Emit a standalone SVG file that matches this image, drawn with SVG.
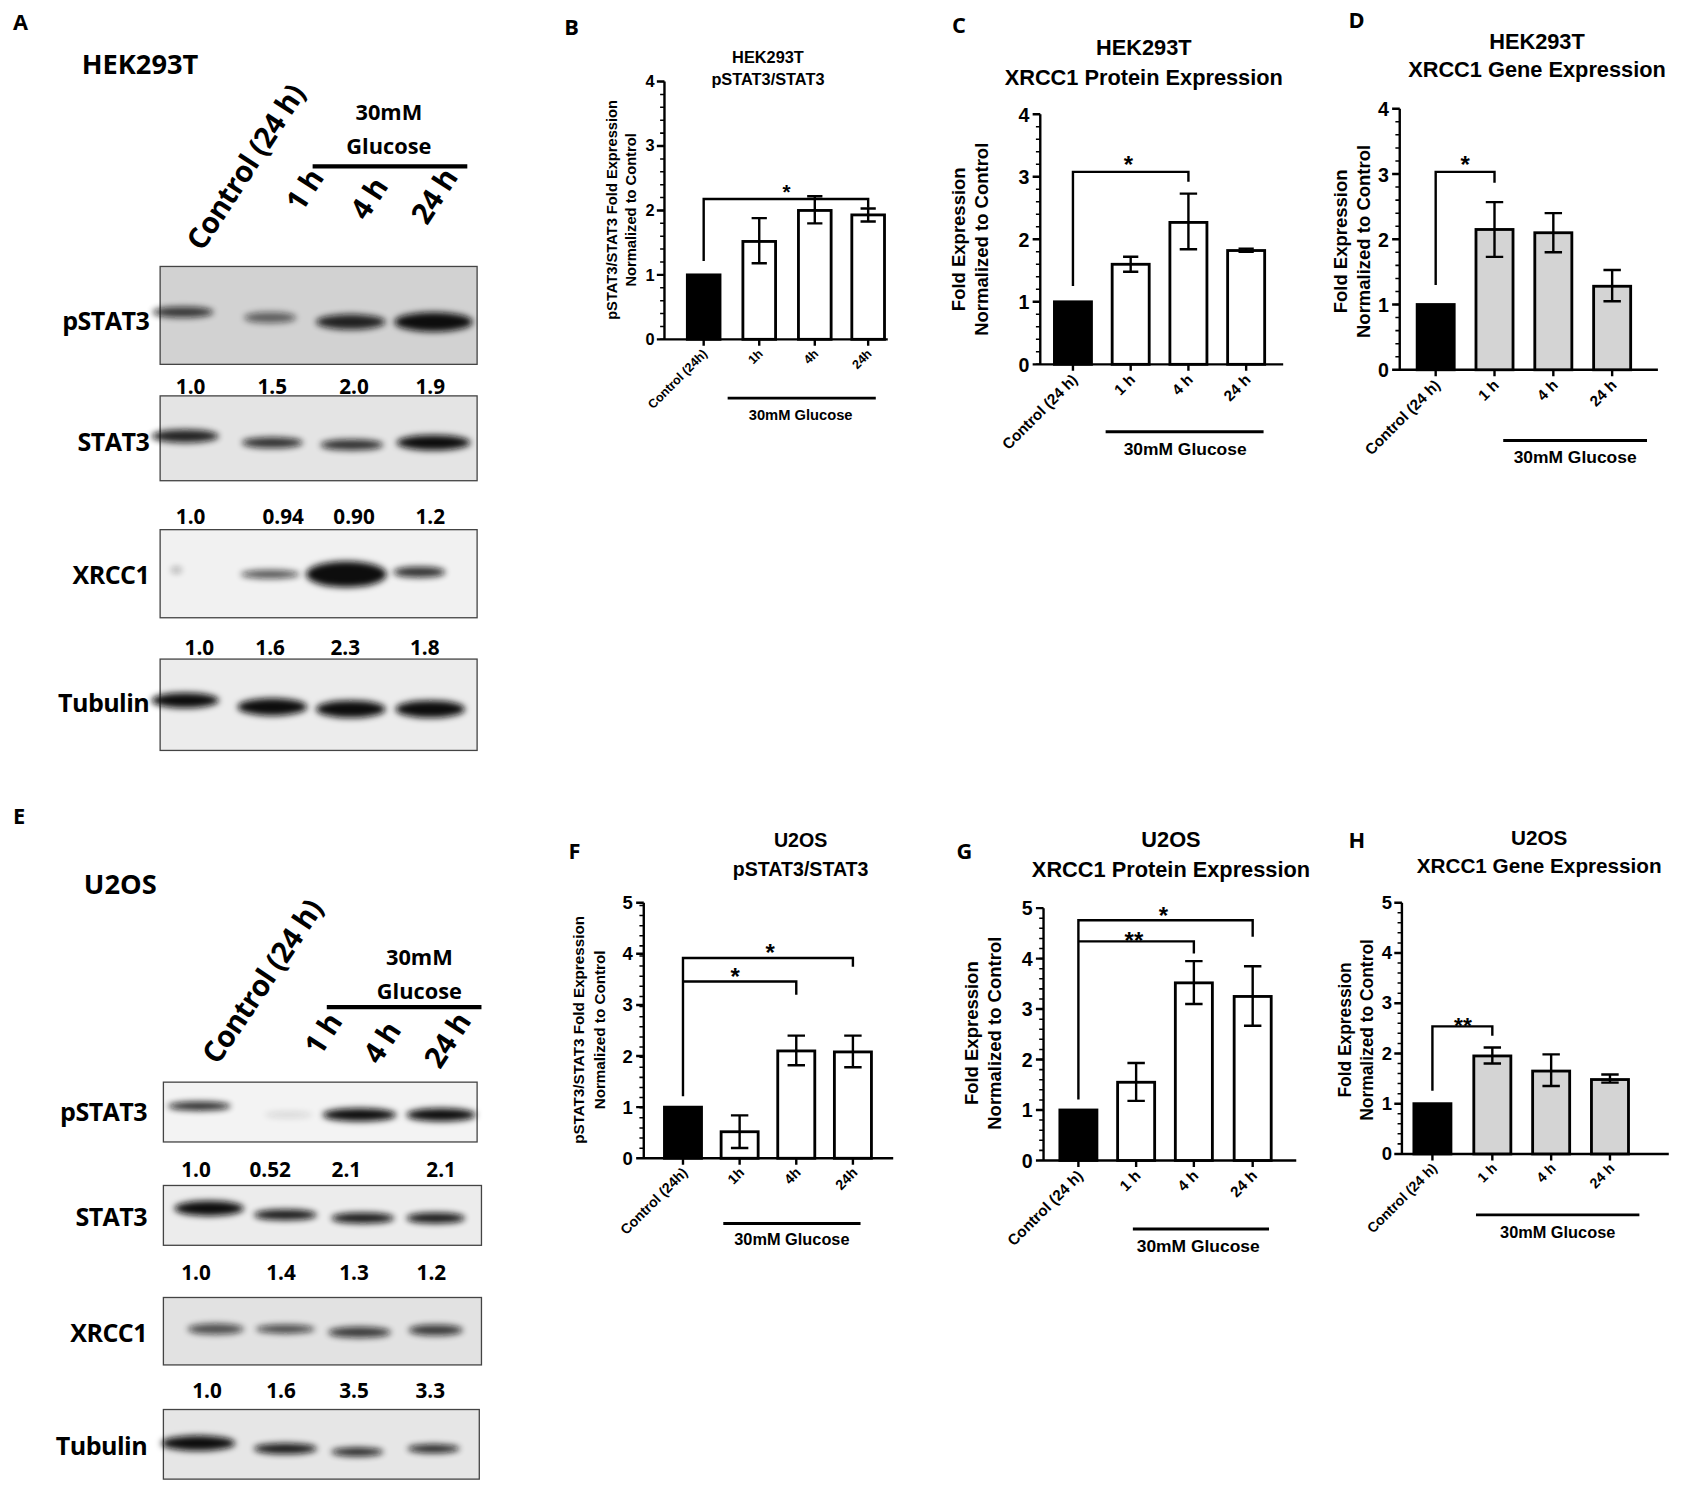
<svg xmlns="http://www.w3.org/2000/svg" width="1708" height="1490" viewBox="0 0 1708 1490">
<style>
.pl{font-family:"Open Sans","Noto Sans",sans-serif;font-weight:700;font-size:20px;fill:#000}
.big{font-family:"Open Sans","Noto Sans",sans-serif;font-weight:700;font-size:25px;fill:#000}
.bl{font-family:"Open Sans","Noto Sans",sans-serif;font-weight:700;font-size:23px;fill:#000;text-anchor:end;letter-spacing:-0.5px}
.num{font-family:"Open Sans","Noto Sans",sans-serif;font-weight:700;font-size:19px;fill:#000;text-anchor:middle}
.hd{font-family:"Open Sans","Noto Sans",sans-serif;font-weight:700;font-size:27px;fill:#000;letter-spacing:-0.5px}
.hdc{font-family:"Open Sans","Noto Sans",sans-serif;font-weight:700;font-size:20px;fill:#000;text-anchor:middle}
.t{font-family:"Liberation Sans",Arial,sans-serif;font-weight:bold;fill:#000;text-anchor:middle}
.tk{font-family:"Liberation Sans",Arial,sans-serif;font-weight:bold;fill:#000;text-anchor:end}
.xl{font-family:"Liberation Sans",Arial,sans-serif;font-weight:bold;fill:#000;text-anchor:end}
.ax{stroke:#000;stroke-width:2.2;fill:none}
.bar{stroke:#000;stroke-width:2.6}
.line{stroke:#000;stroke-width:2.2;fill:none}
.gl{stroke:#000;stroke-width:2.6}
.hdl{stroke:#000;stroke-width:4}
.blot{stroke:#444;stroke-width:1.2}
.band{fill:#111;filter:url(#bl)}
</style>
<defs>
<filter id="bl" x="-50%" y="-100%" width="200%" height="300%"><feGaussianBlur stdDeviation="3"/></filter>
</defs>
<rect width="1708" height="1490" fill="#fff"/>
<g transform="scale(1.08929,1.08759)">

<!-- Panel A -->
<g id="panelA">
<text class="pl" x="12" y="28">A</text>
<text class="big" x="75" y="68">HEK293T</text>
<text class="hd" transform="translate(186,232) rotate(-57)">Control (24 h)</text>
<text class="hdc" x="357" y="110">30mM</text>
<text class="hdc" x="357" y="142">Glucose</text>
<line class="hdl" x1="287" y1="153" x2="429" y2="153"/>
<text class="hd" transform="translate(277,196) rotate(-57)">1 h</text>
<text class="hd" transform="translate(336,204) rotate(-57)">4 h</text>
<text class="hd" transform="translate(392,208) rotate(-57)">24 h</text>
<g id="A_pSTAT3"><rect class="blot" x="147" y="245" width="291" height="90" fill="#d2d2d2"/>
<ellipse class="band" cx="168" cy="287" rx="28" ry="5" opacity="0.8"/><ellipse class="band" cx="248" cy="292" rx="24" ry="5" opacity="0.6"/><ellipse class="band" cx="322" cy="296" rx="32" ry="7" opacity="0.9"/><ellipse class="band" cx="398" cy="296" rx="36" ry="9"/>
<text class="bl" x="137" y="303">pSTAT3</text></g>
<g class="num"><text x="175" y="362">1.0</text><text x="250" y="362">1.5</text><text x="325" y="362">2.0</text><text x="395" y="362">1.9</text></g>
<g id="A_STAT3"><rect class="blot" x="147" y="364" width="291" height="78" fill="#e4e4e4"/>
<ellipse class="band" cx="170" cy="401" rx="31" ry="6" opacity="0.9"/><ellipse class="band" cx="250" cy="407" rx="28" ry="5" opacity="0.85"/><ellipse class="band" cx="323" cy="409" rx="29" ry="5" opacity="0.85"/><ellipse class="band" cx="398" cy="407" rx="34" ry="7"/>
<text class="bl" x="137" y="415">STAT3</text></g>
<g class="num"><text x="175" y="482">1.0</text><text x="260" y="482">0.94</text><text x="325" y="482">0.90</text><text x="395" y="482">1.2</text></g>
<g id="A_XRCC1"><rect class="blot" x="147" y="487" width="291" height="81" fill="#f1f1f1"/>
<ellipse class="band" cx="162" cy="524" rx="5" ry="3" opacity="0.3"/><ellipse class="band" cx="248" cy="528" rx="27" ry="4" opacity="0.7"/><ellipse class="band" cx="318" cy="528" rx="37" ry="12"/><ellipse class="band" cx="385" cy="526" rx="24" ry="5" opacity="0.85"/>
<text class="bl" x="137" y="537">XRCC1</text></g>
<g class="num"><text x="183" y="602">1.0</text><text x="248" y="602">1.6</text><text x="317" y="602">2.3</text><text x="390" y="602">1.8</text></g>
<g id="A_Tubulin"><rect class="blot" x="147" y="606" width="291" height="84" fill="#ececec"/>
<ellipse class="band" cx="170" cy="644" rx="31" ry="7"/><ellipse class="band" cx="250" cy="650" rx="32" ry="8"/><ellipse class="band" cx="322" cy="652" rx="32" ry="8"/><ellipse class="band" cx="395" cy="652" rx="32" ry="8"/>
<text class="bl" x="137" y="655">Tubulin</text></g>
</g>

<!-- Panel E -->
<g id="panelE">
<text class="pl" x="12" y="758">E</text>
<text class="big" x="77" y="822">U2OS</text>
<text class="hd" transform="translate(200,980) rotate(-56)">Control (24 h)</text>
<text class="hdc" x="385" y="887">30mM</text>
<text class="hdc" x="385" y="919">Glucose</text>
<line class="hdl" x1="300" y1="926" x2="442" y2="926"/>
<text class="hd" transform="translate(294,972) rotate(-57)">1 h</text>
<text class="hd" transform="translate(348,980) rotate(-57)">4 h</text>
<text class="hd" transform="translate(404,984) rotate(-57)">24 h</text>
<g id="E_pSTAT3"><rect class="blot" x="150" y="995" width="288" height="55" fill="#f3f3f3"/>
<ellipse class="band" cx="183" cy="1017" rx="29" ry="4" opacity="0.9"/><ellipse class="band" cx="265" cy="1025" rx="22" ry="3" opacity="0.12"/><ellipse class="band" cx="330" cy="1025" rx="34" ry="6"/><ellipse class="band" cx="405" cy="1025" rx="32" ry="6"/>
<text class="bl" x="135" y="1031">pSTAT3</text></g>
<g class="num"><text x="180" y="1082">1.0</text><text x="248" y="1082">0.52</text><text x="318" y="1082">2.1</text><text x="405" y="1082">2.1</text></g>
<g id="E_STAT3"><rect class="blot" x="150" y="1090" width="292" height="55" fill="#ececec"/>
<ellipse class="band" cx="192" cy="1111" rx="32" ry="7"/><ellipse class="band" cx="262" cy="1117" rx="29" ry="5" opacity="0.95"/><ellipse class="band" cx="333" cy="1120" rx="29" ry="5" opacity="0.95"/><ellipse class="band" cx="400" cy="1120" rx="27" ry="5" opacity="0.95"/>
<text class="bl" x="135" y="1127">STAT3</text></g>
<g class="num"><text x="180" y="1177">1.0</text><text x="258" y="1177">1.4</text><text x="325" y="1177">1.3</text><text x="396" y="1177">1.2</text></g>
<g id="E_XRCC1"><rect class="blot" x="150" y="1193" width="292" height="62" fill="#e2e2e2"/>
<ellipse class="band" cx="198" cy="1222" rx="26" ry="5" opacity="0.7"/><ellipse class="band" cx="262" cy="1222" rx="27" ry="4" opacity="0.75"/><ellipse class="band" cx="330" cy="1225" rx="29" ry="5" opacity="0.8"/><ellipse class="band" cx="400" cy="1223" rx="25" ry="5" opacity="0.8"/>
<text class="bl" x="135" y="1234">XRCC1</text></g>
<g class="num"><text x="190" y="1285">1.0</text><text x="258" y="1285">1.6</text><text x="325" y="1285">3.5</text><text x="395" y="1285">3.3</text></g>
<g id="E_Tubulin"><rect class="blot" x="150" y="1296" width="290" height="64" fill="#e6e6e6"/>
<ellipse class="band" cx="182" cy="1327" rx="34" ry="7"/><ellipse class="band" cx="262" cy="1332" rx="29" ry="5" opacity="0.95"/><ellipse class="band" cx="328" cy="1335" rx="24" ry="4" opacity="0.9"/><ellipse class="band" cx="398" cy="1332" rx="24" ry="4" opacity="0.9"/>
<text class="bl" x="135" y="1338">Tubulin</text></g>
</g>

<!-- Panel B -->
<g id="panelB">
<text class="pl" x="518" y="32">B</text>
<text class="t" x="705" y="58" font-size="15">HEK293T</text>
<text class="t" x="705" y="78" font-size="15">pSTAT3/STAT3</text>
<text class="t" font-size="13.5" transform="translate(566,193) rotate(-90)">pSTAT3/STAT3 Fold Expression</text>
<text class="t" font-size="13.5" transform="translate(584,193) rotate(-90)">Normalized to Control</text>
<path class="ax" d="M610,75V312H815M603,312H610M603,252.75H610M603,193.5H610M603,134.25H610M603,75H610M646,312V318M697,312V318M748,312V318M797,312V318"/>
<line x1="608" y1="312" x2="608" y2="75" stroke="#000" stroke-width="4" stroke-dasharray="1.4 10.45" stroke-dashoffset="0.7"/>
<g class="tk" font-size="15"><text x="601" y="317">0</text><text x="601" y="258">1</text><text x="601" y="199">2</text><text x="601" y="139">3</text><text x="601" y="80">4</text></g>
<rect class="bar" x="631" y="252.75" width="30" height="59.25" fill="#000"/>
<rect class="bar" x="682" y="222" width="30" height="90" fill="#fff"/>
<rect class="bar" x="733" y="193.5" width="30" height="118.5" fill="#fff"/>
<rect class="bar" x="782" y="197.6" width="30" height="114.4" fill="#fff"/>
<path class="line" d="M697,242V200.6M690,242H704M690,200.6H704M748,205.4V180.5M741,205.4H755M741,180.5H755M797,203.6V191.7M790,203.6H804M790,191.7H804"/>
<path class="line" d="M646,240V183H797V191"/>
<text class="t" x="722" y="183" font-size="19">*</text>
<g class="xl" font-size="11.5"><text transform="translate(650,326) rotate(-45)">Control (24h)</text><text transform="translate(701,326) rotate(-45)">1h</text><text transform="translate(752,326) rotate(-45)">4h</text><text transform="translate(801,326) rotate(-45)">24h</text></g>
<line class="gl" x1="668" y1="366" x2="804" y2="366"/>
<text class="t" x="735" y="386" font-size="13.5">30mM Glucose</text>
</g>

<!-- Panel C -->
<g id="panelC">
<text class="pl" x="874" y="30">C</text>
<text class="t" x="1050" y="51" font-size="20">HEK293T</text>
<text class="t" x="1050" y="78" font-size="20">XRCC1 Protein Expression</text>
<text class="t" font-size="17" transform="translate(886,220) rotate(-90)">Fold Expression</text>
<text class="t" font-size="17" transform="translate(907,220) rotate(-90)">Normalized to Control</text>
<path class="ax" d="M955,105V335H1178M948,335H955M948,277.5H955M948,220H955M948,162.5H955M948,105H955M985,335V341M1038,335V341M1091,335V341M1144,335V341"/>
<line x1="953" y1="335" x2="953" y2="105" stroke="#000" stroke-width="4" stroke-dasharray="1.4 10.1" stroke-dashoffset="0.7"/>
<g class="tk" font-size="18"><text x="945" y="342">0</text><text x="945" y="284">1</text><text x="945" y="227">2</text><text x="945" y="169">3</text><text x="945" y="112">4</text></g>
<rect class="bar" x="968" y="277.5" width="34" height="57.5" fill="#000"/>
<rect class="bar" x="1021" y="243" width="34" height="92" fill="#fff"/>
<rect class="bar" x="1074" y="204.5" width="34" height="130.5" fill="#fff"/>
<rect class="bar" x="1127" y="230.35" width="34" height="104.65" fill="#fff"/>
<path class="line" d="M1038,249.9V236.1M1031,249.9H1045M1031,236.1H1045M1091,229.2V178M1083,229.2H1099M1083,178H1099M1144,231.5V228.6M1137,231.5H1151M1137,228.6H1151"/>
<path class="line" d="M985,263V158H1091V167"/>
<text class="t" x="1036" y="159" font-size="22">*</text>
<g class="xl" font-size="14"><text transform="translate(990,350) rotate(-45)">Control (24 h)</text><text transform="translate(1043,350) rotate(-45)">1 h</text><text transform="translate(1096,350) rotate(-45)">4 h</text><text transform="translate(1149,350) rotate(-45)">24 h</text></g>
<line class="gl" x1="1015" y1="397" x2="1160" y2="397"/>
<text class="t" x="1088" y="418" font-size="16">30mM Glucose</text>
</g>

<!-- Panel D -->
<g id="panelD">
<text class="pl" x="1238" y="26">D</text>
<text class="t" x="1411" y="45" font-size="20">HEK293T</text>
<text class="t" x="1411" y="71" font-size="20">XRCC1 Gene Expression</text>
<text class="t" font-size="17" transform="translate(1237,222) rotate(-90)">Fold Expression</text>
<text class="t" font-size="17" transform="translate(1258,222) rotate(-90)">Normalized to Control</text>
<path class="ax" d="M1285,100V340H1522M1278,340H1285M1278,280H1285M1278,220H1285M1278,160H1285M1278,100H1285M1318,340V346M1372,340V346M1426,340V346M1480,340V346"/>
<line x1="1283" y1="340" x2="1283" y2="100" stroke="#000" stroke-width="4" stroke-dasharray="1.4 10.6" stroke-dashoffset="0.7"/>
<g class="tk" font-size="18"><text x="1275" y="347">0</text><text x="1275" y="287">1</text><text x="1275" y="227">2</text><text x="1275" y="167">3</text><text x="1275" y="107">4</text></g>
<rect class="bar" x="1301" y="280" width="34" height="60" fill="#000"/>
<rect class="bar" x="1355" y="211" width="34" height="129" fill="#d4d4d4"/>
<rect class="bar" x="1409" y="214" width="34" height="126" fill="#d4d4d4"/>
<rect class="bar" x="1463" y="263.2" width="34" height="76.8" fill="#d4d4d4"/>
<path class="line" d="M1372,236.2V185.8M1364,236.2H1380M1364,185.8H1380M1426,232V196M1418,232H1434M1418,196H1434M1480,277V248.2M1472,277H1488M1472,248.2H1488"/>
<path class="line" d="M1318,262V158H1372V168"/>
<text class="t" x="1345" y="159" font-size="22">*</text>
<g class="xl" font-size="14"><text transform="translate(1323,355) rotate(-45)">Control (24 h)</text><text transform="translate(1377,355) rotate(-45)">1 h</text><text transform="translate(1431,355) rotate(-45)">4 h</text><text transform="translate(1485,355) rotate(-45)">24 h</text></g>
<line class="gl" x1="1380" y1="405" x2="1512" y2="405"/>
<text class="t" x="1446" y="426" font-size="16">30mM Glucose</text>
</g>

<!-- Panel F -->
<g id="panelF">
<text class="pl" x="522" y="790">F</text>
<text class="t" x="735" y="779" font-size="18">U2OS</text>
<text class="t" x="735" y="805" font-size="18">pSTAT3/STAT3</text>
<text class="t" font-size="14" transform="translate(536,947) rotate(-90)">pSTAT3/STAT3 Fold Expression</text>
<text class="t" font-size="14" transform="translate(555,947) rotate(-90)">Normalized to Control</text>
<path class="ax" d="M591,830V1065H820M584,1065H591M584,1018H591M584,971H591M584,924H591M584,877H591M584,830H591M627,1065V1071M679,1065V1071M731,1065V1071M783,1065V1071"/>
<line x1="589" y1="1065" x2="589" y2="830" stroke="#000" stroke-width="4" stroke-dasharray="1.4 7.9" stroke-dashoffset="0.7"/>
<g class="tk" font-size="17"><text x="581" y="1071">0</text><text x="581" y="1024">1</text><text x="581" y="977">2</text><text x="581" y="930">3</text><text x="581" y="883">4</text><text x="581" y="836">5</text></g>
<rect class="bar" x="610" y="1018" width="34" height="47" fill="#000"/>
<rect class="bar" x="662" y="1040.6" width="34" height="24.4" fill="#fff"/>
<rect class="bar" x="714" y="966.3" width="34" height="98.7" fill="#fff"/>
<rect class="bar" x="766" y="967.2" width="34" height="97.8" fill="#fff"/>
<path class="line" d="M679,1055.6V1025.5M671,1055.6H687M671,1025.5H687M731,979.5V952.2M723,979.5H739M723,952.2H739M783,981.3V952.2M775,981.3H791M775,952.2H791"/>
<path class="line" d="M627,1008V880.8H783V889M627,902.4H731V914.6"/>
<text class="t" x="675" y="906" font-size="22">*</text>
<text class="t" x="707" y="884" font-size="22">*</text>
<g class="xl" font-size="13"><text transform="translate(632,1079) rotate(-45)">Control (24h)</text><text transform="translate(684,1079) rotate(-45)">1h</text><text transform="translate(736,1079) rotate(-45)">4h</text><text transform="translate(788,1079) rotate(-45)">24h</text></g>
<line class="gl" x1="664" y1="1125" x2="790" y2="1125"/>
<text class="t" x="727" y="1145" font-size="15">30mM Glucose</text>
</g>

<!-- Panel G -->
<g id="panelG">
<text class="pl" x="878" y="790">G</text>
<text class="t" x="1075" y="779" font-size="20">U2OS</text>
<text class="t" x="1075" y="806" font-size="20">XRCC1 Protein Expression</text>
<text class="t" font-size="17" transform="translate(898,950) rotate(-90)">Fold Expression</text>
<text class="t" font-size="17" transform="translate(919,950) rotate(-90)">Normalized to Control</text>
<path class="ax" d="M958,835V1067H1190M951,1067H958M951,1020.6H958M951,974.2H958M951,927.8H958M951,881.4H958M951,835H958M990,1067V1073M1043,1067V1073M1096,1067V1073M1150,1067V1073"/>
<line x1="956" y1="1067" x2="956" y2="835" stroke="#000" stroke-width="4" stroke-dasharray="1.4 7.88" stroke-dashoffset="0.7"/>
<g class="tk" font-size="18"><text x="948" y="1074">0</text><text x="948" y="1027">1</text><text x="948" y="981">2</text><text x="948" y="934">3</text><text x="948" y="888">4</text><text x="948" y="841">5</text></g>
<rect class="bar" x="973" y="1020.6" width="34" height="46.4" fill="#000"/>
<rect class="bar" x="1026" y="995.1" width="34" height="71.9" fill="#fff"/>
<rect class="bar" x="1079" y="903.7" width="34" height="163.3" fill="#fff"/>
<rect class="bar" x="1133" y="916.2" width="34" height="150.8" fill="#fff"/>
<path class="line" d="M1043,1012.2V977.4M1035,1012.2H1051M1035,977.4H1051M1096,923.2V883.7M1088,923.2H1104M1088,883.7H1104M1150,943.1V888.4M1142,943.1H1158M1142,888.4H1158"/>
<path class="line" d="M990,1011V846.1H1150V861.4M990,865.6H1096V876.8"/>
<text class="t" x="1041" y="873" font-size="22">**</text>
<text class="t" x="1068" y="850" font-size="22">*</text>
<g class="xl" font-size="14"><text transform="translate(995,1082) rotate(-45)">Control (24 h)</text><text transform="translate(1048,1082) rotate(-45)">1 h</text><text transform="translate(1101,1082) rotate(-45)">4 h</text><text transform="translate(1155,1082) rotate(-45)">24 h</text></g>
<line class="gl" x1="1040" y1="1130" x2="1165" y2="1130"/>
<text class="t" x="1100" y="1151" font-size="16">30mM Glucose</text>
</g>

<!-- Panel H -->
<g id="panelH">
<text class="pl" x="1238" y="780">H</text>
<text class="t" x="1413" y="777" font-size="19">U2OS</text>
<text class="t" x="1413" y="803" font-size="19">XRCC1 Gene Expression</text>
<text class="t" font-size="16" transform="translate(1240,947) rotate(-90)">Fold Expression</text>
<text class="t" font-size="16" transform="translate(1260,947) rotate(-90)">Normalized to Control</text>
<path class="ax" d="M1287,830V1061H1532M1280,1061H1287M1280,1014.8H1287M1280,968.6H1287M1280,922.4H1287M1280,876.2H1287M1280,830H1287M1315,1061V1067M1370,1061V1067M1424,1061V1067M1478,1061V1067"/>
<line x1="1285" y1="1061" x2="1285" y2="830" stroke="#000" stroke-width="4" stroke-dasharray="1.4 7.84" stroke-dashoffset="0.7"/>
<g class="tk" font-size="17"><text x="1278" y="1067">0</text><text x="1278" y="1021">1</text><text x="1278" y="975">2</text><text x="1278" y="928">3</text><text x="1278" y="882">4</text><text x="1278" y="836">5</text></g>
<rect class="bar" x="1298" y="1014.8" width="34" height="46.2" fill="#000"/>
<rect class="bar" x="1353" y="970.9" width="34" height="90.1" fill="#d4d4d4"/>
<rect class="bar" x="1407" y="984.8" width="34" height="76.2" fill="#d4d4d4"/>
<rect class="bar" x="1461" y="992.6" width="34" height="68.4" fill="#d4d4d4"/>
<path class="line" d="M1370,977.8V963.1M1362,977.8H1378M1362,963.1H1378M1424,998.6V969.5M1416,998.6H1432M1416,969.5H1432M1478,995.4V988M1470,995.4H1486M1470,988H1486"/>
<path class="line" d="M1315,1003V943.7H1370V952.4"/>
<text class="t" x="1343" y="950" font-size="21">**</text>
<g class="xl" font-size="13"><text transform="translate(1320,1075) rotate(-45)">Control (24 h)</text><text transform="translate(1375,1075) rotate(-45)">1 h</text><text transform="translate(1429,1075) rotate(-45)">4 h</text><text transform="translate(1483,1075) rotate(-45)">24 h</text></g>
<line class="gl" x1="1355" y1="1117" x2="1505" y2="1117"/>
<text class="t" x="1430" y="1138" font-size="15">30mM Glucose</text>
</g>
</g>
</svg>
